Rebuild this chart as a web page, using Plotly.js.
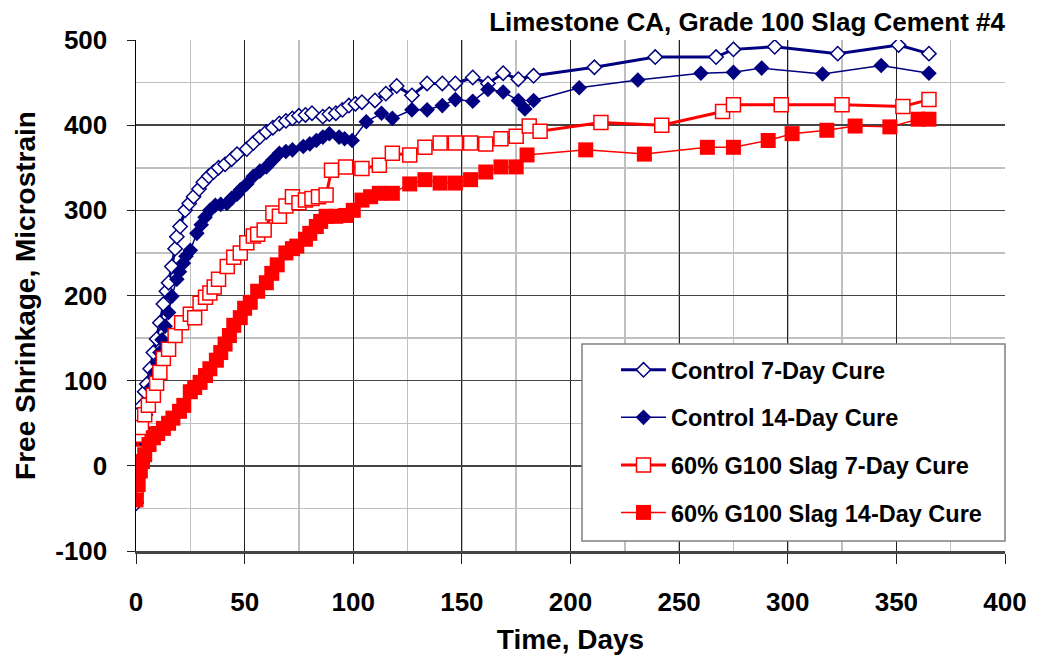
<!DOCTYPE html>
<html>
<head>
<meta charset="utf-8">
<script src="https://cdn.plot.ly/plotly-3.0.1.min.js"></script>
<style>html,body{margin:0;padding:0;background:#fff;}#chart{width:1038px;height:655px;}</style>
</head>
<body>
<div id="chart"></div>
<script>
// ---- Data ----
const chartTitle = "Limestone CA, Grade 100 Slag Cement #4";
const xTitle = "Time, Days";
const yTitle = "Free Shrinkage, Microstrain";
const seriesNames = ["Control 7-Day Cure", "Control 14-Day Cure", "60% G100 Slag 7-Day Cure", "60% G100 Slag 14-Day Cure"];

const control7Days = [0, 0.5, 1.5, 2.5, 4, 5, 6.5, 8, 9.5, 11, 12.6, 14, 15, 16.5, 18, 18.8, 20.3, 22.6, 24.5, 26.5, 29, 31, 33.5, 35.7, 38, 41, 44, 46.5, 51, 54, 57, 60, 63, 66, 69, 72, 75, 78, 81, 86, 89, 92, 95, 98, 101, 104, 110, 115, 120, 127, 134, 141, 147, 155, 162, 169, 176, 183, 211, 239, 267, 275, 294, 323, 351, 365];
const control7Vals = [-44, 5, 40, 70, 87, 96, 114, 133, 149, 168, 190, 205, 215, 234, 255, 269, 281, 300, 308, 316, 325, 333, 340, 345, 350, 354, 360, 366, 372, 379, 386, 392, 397, 402, 405, 408, 411, 412, 414, 410, 413, 414, 418, 423, 425, 427, 429, 437, 446, 435, 449, 449, 449, 456, 449, 461, 454, 458, 468, 480, 480, 489, 492, 484, 494, 484];

const control14Days = [0, 0.3, 1.5, 3.4, 4.5, 5.7, 7, 8.8, 10, 11, 12, 13.4, 15, 16.5, 18.8, 20, 21.8, 23, 25, 28, 30, 31.8, 34, 36.5, 39, 41.8, 44, 46.5, 48, 51, 54, 57, 60, 63, 66, 69, 72, 77, 80, 83, 86, 89, 93.5, 96, 99.5, 106, 113, 118, 127, 134, 141, 147, 155, 162, 169, 176, 179, 183, 204, 231, 260, 275, 288, 316, 343, 365];
const control14Vals = [-34, 11, 25, 44, 60, 75, 92, 110, 120, 133, 148, 164, 180, 199, 219, 228, 238, 246, 253, 273, 283, 292, 300, 306, 307, 308, 314, 319, 324, 331, 340, 346, 351, 359, 367, 369, 371, 375, 378, 382, 386, 390, 386, 384, 382, 404, 414, 408, 418, 418, 423, 430, 428, 442, 439, 429, 419, 429, 444, 453, 461, 462, 467, 460, 470, 461];

const slag7Days = [0, 0.3, 0.6, 1, 2.5, 4, 5.7, 8, 9.5, 11, 12.6, 15, 18, 21, 25, 27, 29.5, 32, 34, 36, 38, 42, 45, 48, 51, 54, 56, 59, 63, 66, 69, 72, 75, 78, 81, 84, 87.5, 90, 96.5, 104, 112, 118, 126, 133, 140, 147, 154, 161, 168, 175, 181, 186, 214, 242, 270, 275, 297, 325, 353, 365];
const slag7Vals = [-35, -10, 15, 36, 45, 60, 71, 83, 97, 110, 126, 137, 153, 168, 178, 174, 191, 198, 203, 210, 219, 234, 245, 250, 262, 270, 272, 277, 297, 293, 305, 316, 309, 312, 314, 316, 318, 347, 351, 349, 353, 367, 365, 374, 379, 379, 379, 378, 384, 387, 399, 393, 403, 400, 416, 424, 424, 424, 422, 430];

const slag14Days = [0, 1, 2, 3, 4, 6, 8, 10, 12.6, 15, 17, 20, 22, 25, 27, 29.5, 32, 34, 37, 39, 41, 43, 45, 48, 50, 52.6, 56, 60, 62.5, 65, 69, 72, 74, 78, 80, 83, 85, 87.5, 92, 96.5, 100, 104, 108, 112, 118, 126, 133, 140, 147, 154, 161, 168, 175, 180, 207, 234, 263, 275, 291, 302, 318, 331, 347, 360, 365];
const slag14Vals = [-40, -22, -6, 5, 13, 25, 33, 38, 44, 50, 56, 64, 71, 87, 92, 98, 106, 114, 124, 133, 143, 153, 165, 174, 185, 192, 205, 215, 226, 236, 250, 255, 258, 266, 273, 281, 287, 293, 293, 294, 300, 312, 316, 320, 320, 331, 336, 332, 332, 336, 345, 351, 351, 365, 371, 366, 374, 374, 382, 390, 394, 399, 398, 407, 407];

const xTickVals = [0, 50, 100, 150, 200, 250, 300, 350, 400];
const yTickVals = [-100, 0, 100, 200, 300, 400, 500];

// ---- Styling ----
const NAVY = "#000080";
const RED = "#FF0000";
const FONT = "Liberation Sans, Arial, sans-serif";

const traces = [
  {x: control7Days, y: control7Vals, name: seriesNames[0], legendgroup: "a",
   mode: "lines+markers", line: {color: NAVY, width: 3},
   marker: {symbol: "diamond", size: 11, color: "#ffffff", line: {color: NAVY, width: 1.5}}},
  {x: control14Days, y: control14Vals, name: seriesNames[1], legendgroup: "b",
   mode: "lines+markers", line: {color: NAVY, width: 1.5},
   marker: {symbol: "diamond", size: 12, color: NAVY, line: {color: NAVY, width: 0}}},
  {x: slag7Days, y: slag7Vals, name: seriesNames[2], legendgroup: "c",
   mode: "lines+markers", line: {color: RED, width: 3},
   marker: {symbol: "square", size: 14, color: "#ffffff", line: {color: RED, width: 1.5}}},
  {x: slag14Days, y: slag14Vals, name: seriesNames[3], legendgroup: "d",
   mode: "lines+markers", line: {color: RED, width: 1.5},
   marker: {symbol: "square", size: 15, color: RED, line: {color: RED, width: 0}}}
];

const px2x = p => (p - 136) / 869;
const px2y = p => 1 - (p - 40) / 511;

const layout = {
  width: 1038, height: 655,
  margin: {l: 136, r: 33, t: 40, b: 104},
  paper_bgcolor: "#ffffff", plot_bgcolor: "#ffffff",
  font: {family: FONT, color: "#000", size: 24},
  showlegend: true,
  title: {text: "<b>" + chartTitle + "</b>", font: {family: FONT, size: 26, color: "#000"},
          xref: "paper", x: 1, xanchor: "right", yref: "container", y: 1 - 22/655, yanchor: "middle"},
  xaxis: {
    range: [0, 400], tickvals: xTickVals, ticktext: xTickVals.map(v => "<b>" + v + "</b>"),
    tickfont: {family: FONT, size: 26, color: "#000"},
    ticks: "outside", ticklen: 10, tickcolor: "#222", tickwidth: 1,
    ticklabelstandoff: 16,
    showgrid: true, gridcolor: "#222", gridwidth: 1,
    minor: {dtick: 25, tick0: 0, showgrid: true, gridcolor: "#c0c0c0", gridwidth: 1.5, ticks: ""},
    showline: true, linecolor: "#444", linewidth: 2.5, zeroline: false, mirror: false,
    title: {text: "<b>" + xTitle + "</b>", font: {family: FONT, size: 28, color: "#000"}, standoff: 18},
    automargin: false, fixedrange: true
  },
  yaxis: {
    range: [-100, 500], tickvals: yTickVals, ticktext: yTickVals.map(v => "<b>" + v + "</b>"),
    tickfont: {family: FONT, size: 26, color: "#000"},
    ticks: "outside", ticklen: 8, tickcolor: "#222", tickwidth: 1,
    ticklabelstandoff: 14,
    showgrid: true, gridcolor: "#444", gridwidth: 1.5,
    minor: {dtick: 50, tick0: 0, showgrid: true, gridcolor: "#c0c0c0", gridwidth: 1.5, ticks: ""},
    showline: true, linecolor: "#000", linewidth: 1.5, zeroline: false,
    title: {text: "<b>" + yTitle + "</b>", font: {family: FONT, size: 28, color: "#000"}, standoff: 11},
    automargin: false, fixedrange: true
  },
  shapes: [
    {type: "rect", xref: "paper", yref: "paper", x0: px2x(582), x1: px2x(1005), y0: px2y(541), y1: px2y(344),
     fillcolor: "#ffffff", line: {color: "#808080", width: 1.5}, layer: "above"}
  ],
  legend: {
    x: px2x(616), y: px2y(348), xanchor: "left", yanchor: "top",
    bgcolor: "rgba(0,0,0,0)", borderwidth: 0,
    font: {family: FONT, size: 23.5, color: "#000"},
    traceorder: "grouped", tracegroupgap: 14, itemwidth: 45
  }
};

traces.forEach(t => { t.name = "<b>" + t.name + "</b>"; });

Plotly.newPlot("chart", traces, layout, {displayModeBar: false, staticPlot: true});
</script>
</body>
</html>
